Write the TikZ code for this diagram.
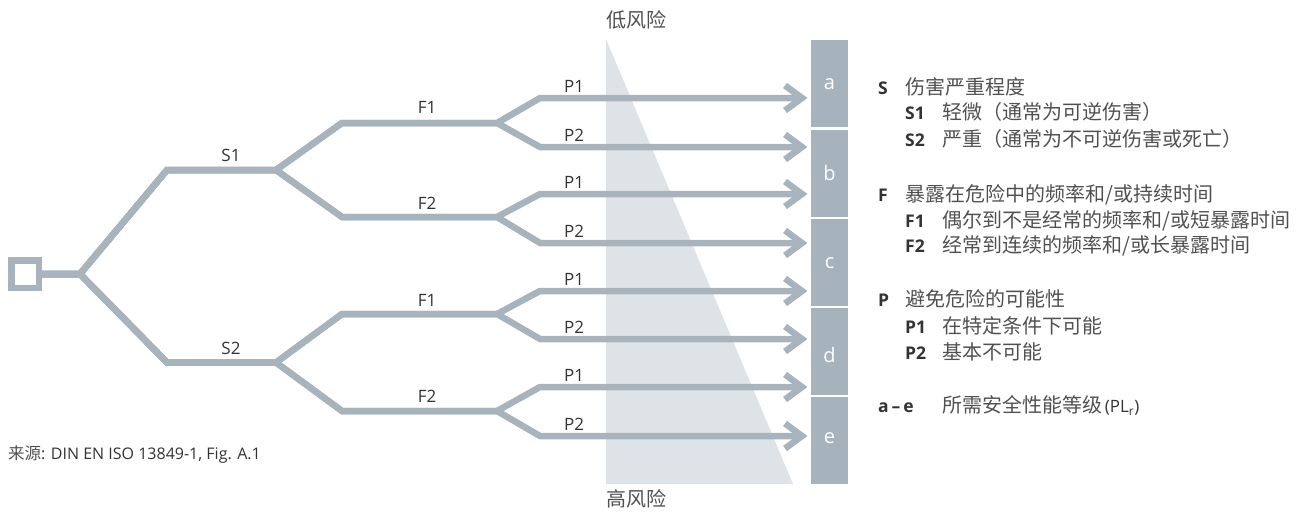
\documentclass[tikz,border=0pt]{standalone}
\usepackage{fontspec}
\setmainfont{Open Sans}
\newfontfamily\cjk{Noto Sans CJK SC}

\definecolor{branch}{HTML}{A7B4BD}
\definecolor{level}{HTML}{A6B3BD}
\definecolor{risk}{HTML}{DEE3E7}
\definecolor{ink}{HTML}{333333}
\definecolor{cjkink}{HTML}{505050}

% text sizes (1pt = 1 unit of the drawing)
\newcommand\latsz{\fontsize{17}{20}\selectfont}
\newcommand\keysz{\fontsize{17.5}{20}\selectfont}
\newcommand\srcsz{\fontsize{16}{18}\selectfont}
\newcommand\cjkL{\cjk\fontsize{20}{22}\selectfont\color{cjkink}}
\newcommand\cjkS{\cjk\fontsize{16.5}{19}\selectfont\color{cjkink}}

\begin{document}
\begin{tikzpicture}[x=1pt,y=-1pt,
  branchline/.style={draw=branch, line width=6.5pt, line join=miter, miter limit=10},
  chevron/.style={draw=branch, line width=6.5pt, line join=miter, miter limit=10},
  levelbox/.style={fill=level, minimum width=37pt, minimum height=87pt, inner sep=0pt},
  levelletter/.style={anchor=base, text=white, font=\fontsize{20}{22}\selectfont, inner sep=0pt},
  branchlabel/.style={anchor=base, text=ink, font=\latsz, inner sep=0pt},
  keylabel/.style={anchor=base west, text=ink, font=\keysz\bfseries, inner sep=0pt},
  desc/.style={anchor=base west, inner sep=0pt},
]
\useasboundingbox (0,0) rectangle (1297,512);

% risk wedge
\fill[risk] (606,39) -- (606,484) -- (793,484) -- cycle;
\node[font=\cjkL, inner sep=0pt] (low) at (636,20) {低风险};
\node[font=\cjkL, inner sep=0pt] (high) at (636,499) {高风险};

% performance level column
\node[levelbox] (la) at (829.5,83.5) {};
\node[levelbox] (lb) at (829.5,173.5) {};
\node[levelbox] (lc) at (829.5,262) {};
\node[levelbox] (ld) at (829.5,351.5) {};
\node[levelbox] (le) at (829.5,440) {};
\node[levelletter] (ta) at (829.5,89) {a};
\node[levelletter] (tb) at (829.5,180) {b};
\node[levelletter] (tc) at (829.5,268) {c};
\node[levelletter] (td) at (829.5,362) {d};
\node[levelletter] (te) at (829.5,443) {e};

% start square and forks
\node[draw=branch, line width=6.5pt, minimum size=27.5pt, inner sep=0pt] (start) at (25,274) {};
\coordinate (n0) at (80,274);
\coordinate (s1c) at (167,170);   \coordinate (s1) at (276,170);
\coordinate (s2c) at (167,362.5); \coordinate (s2) at (276,362.5);
\coordinate (fac) at (342,123);   \coordinate (fa) at (497,123);
\coordinate (fbc) at (342,217);   \coordinate (fb) at (497,217);
\coordinate (fcc) at (342,314);   \coordinate (fc) at (497,314);
\coordinate (fdc) at (342,411);   \coordinate (fd) at (497,411);
\foreach \i/\y in {1/98,2/147,3/194,4/243,5/291,6/339,7/387,8/436}{
  \coordinate (p\i c) at (540,\y);
  \coordinate (t\i) at (802,\y);
}

% decision paths
\draw[branchline] (start.east) -- (n0) -- (s1c) -- (s1) -- (fac) -- (fa) -- (p1c) -- (t1);
\draw[branchline] (start.east) -- (n0) -- (s1c) -- (s1) -- (fac) -- (fa) -- (p2c) -- (t2);
\draw[branchline] (start.east) -- (n0) -- (s1c) -- (s1) -- (fbc) -- (fb) -- (p3c) -- (t3);
\draw[branchline] (start.east) -- (n0) -- (s1c) -- (s1) -- (fbc) -- (fb) -- (p4c) -- (t4);
\draw[branchline] (start.east) -- (n0) -- (s2c) -- (s2) -- (fcc) -- (fc) -- (p5c) -- (t5);
\draw[branchline] (start.east) -- (n0) -- (s2c) -- (s2) -- (fcc) -- (fc) -- (p6c) -- (t6);
\draw[branchline] (start.east) -- (n0) -- (s2c) -- (s2) -- (fdc) -- (fd) -- (p7c) -- (t7);
\draw[branchline] (start.east) -- (n0) -- (s2c) -- (s2) -- (fdc) -- (fd) -- (p8c) -- (t8);
\foreach \i in {1,...,8}{
  \draw[chevron] (t\i) ++(-17,-12.5) -- (t\i) -- ++(-17,12.5);
}

% branch labels
\node[branchlabel] (ls1) at (231,161) {S1};
\node[branchlabel] (ls2) at (231,354) {S2};
\node[branchlabel] (lf1a) at (427,113) {F1};
\node[branchlabel] (lf2a) at (427,209) {F2};
\node[branchlabel] (lf1b) at (427,306) {F1};
\node[branchlabel] (lf2b) at (427,402.5) {F2};
\foreach \i/\y/\t in {1/92/P1,2/141/P2,3/188/P1,4/237/P2,5/285/P1,6/333/P2,7/381/P1,8/430/P2}{
  \node[branchlabel] (lp\i) at (574,\y) {\t};
}

% legend
\node[keylabel] (kS) at (878,94) {S};
\node[desc] (dS) at (905,94) {\cjkL 伤害严重程度};
\node[keylabel] (kS1) at (905,119) {S1};
\node[desc] (dS1) at (942,119) {\cjkL 轻微（通常为可逆伤害）};
\node[keylabel] (kS2) at (905,146.5) {S2};
\node[desc] (dS2) at (942,146.5) {\cjkL 严重（通常为不可逆伤害或死亡）};

\node[keylabel] (kF) at (878,201) {F};
\node[desc] (dF) at (905,201) {\cjkL 暴露在危险中的频率和/或持续时间};
\node[keylabel] (kF1) at (905,227.5) {F1};
\node[desc] (dF1) at (942,227.5) {\cjkL 偶尔到不是经常的频率和/或短暴露时间};
\node[keylabel] (kF2) at (905,252.5) {F2};
\node[desc] (dF2) at (942,252.5) {\cjkL 经常到连续的频率和/或长暴露时间};

\node[keylabel] (kP) at (878,306) {P};
\node[desc] (dP) at (905,306) {\cjkL 避免危险的可能性};
\node[keylabel] (kP1) at (905,333.5) {P1};
\node[desc] (dP1) at (942,333.5) {\cjkL 在特定条件下可能};
\node[keylabel] (kP2) at (905,359.5) {P2};
\node[desc] (dP2) at (942,359.5) {\cjkL 基本不可能};

\node[keylabel] (kae) at (878,412.5) {a\,–\,e};
\node[desc] (dae) at (942,412.5) {{\cjkL 所需安全性能等级} {\latsz\color{ink}(PL\textsubscript{r})}};

% source note
\node[desc] (src) at (8,459) {{\cjkS 来源}{\srcsz\color{ink}: DIN EN ISO 13849-1, Fig. A.1}};
\end{tikzpicture}
\end{document}
